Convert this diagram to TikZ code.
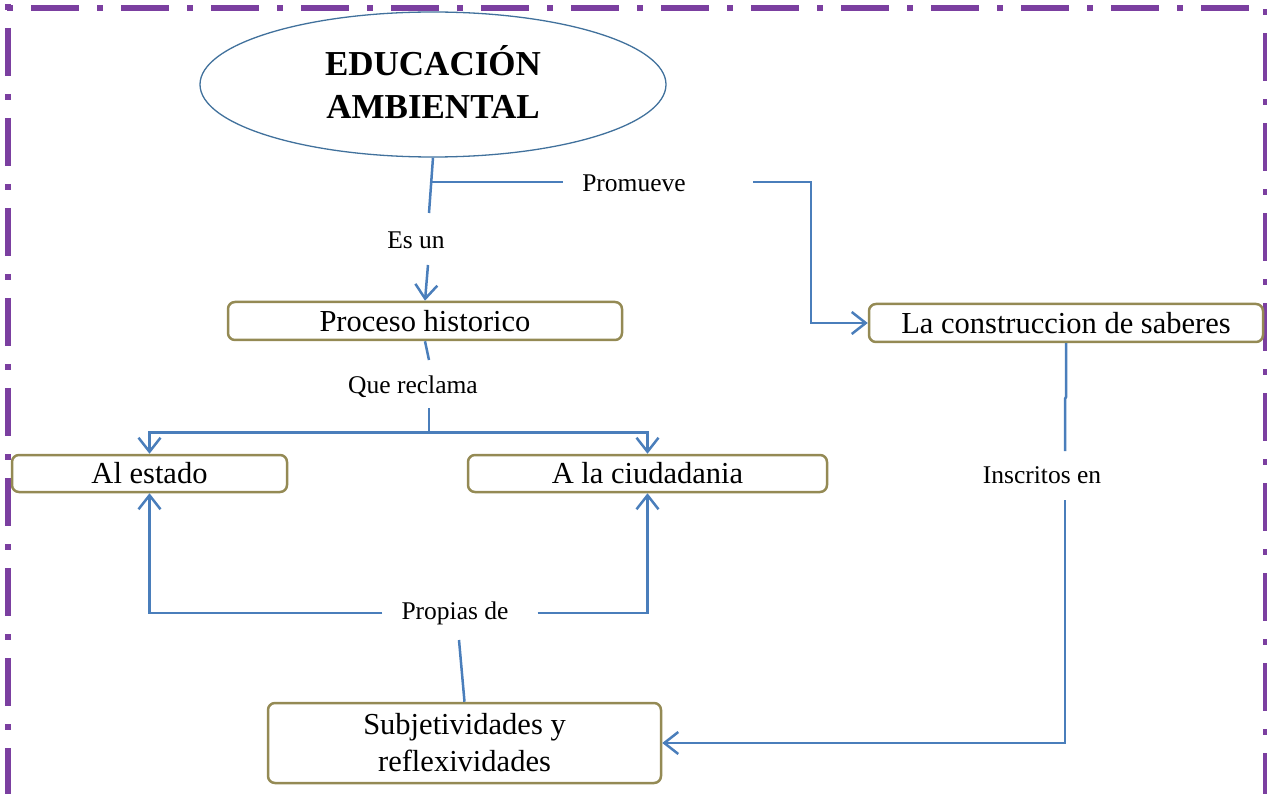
\documentclass[tikz,border=0pt]{standalone}
\usepackage{fontspec}
\setmainfont{Liberation Serif}
\usetikzlibrary{arrows.meta,shapes.geometric}
\definecolor{bordpurple}{RGB}{123,63,160}
\definecolor{conblue}{RGB}{74,126,187}
\definecolor{boxolive}{RGB}{148,138,84}
\definecolor{ellblue}{RGB}{65,113,156}
\begin{document}
\begin{tikzpicture}[x=1pt,y=-1pt,
  frameline/.style={draw=bordpurple, line width=6pt, dash pattern=on 6pt off 18pt on 48pt off 18pt},
  conn/.style={draw=conblue, line width=2.5pt},
  arr/.style={conn, -{Straight Barb[length=14pt,width=22pt,line width=2.5pt]}},
  concept/.style={draw=boxolive, line width=2.5pt, rounded corners=7pt, inner sep=0pt,
    align=center, font=\fontsize{30.5}{37}\selectfont},
  lbl/.style={inner sep=0pt, anchor=base, font=\fontsize{25.5}{30}\selectfont}]
\useasboundingbox (0,0) rectangle (1267,794);
% frame
\draw[frameline] (7,8.5) -- (1250,8.5);
\draw[frameline] (8,4) -- (8,794);
\draw[frameline] (1265.5,9) -- (1265.5,794);
% main ellipse
\node[ellipse, draw=ellblue, line width=1.3pt, minimum width=466pt, minimum height=145pt,
  inner sep=0pt, align=center, font=\fontsize{35}{43}\bfseries\selectfont] (edu) at (433,84.5)
  {EDUCACIÓN\\AMBIENTAL\rule[-6pt]{0pt}{0pt}};
% concept boxes
\node[concept, minimum width=394pt, minimum height=38pt] (proc) at (425,321) {Proceso historico};
\node[concept, minimum width=275pt, minimum height=37pt] (estado) at (149.5,473.5) {Al estado};
\node[concept, minimum width=359pt, minimum height=37pt] (ciud) at (647.5,473.5) {A la ciudadania};
\node[concept, minimum width=394pt, minimum height=38pt] (saber) at (1066,323) {La construccion de saberes};
\node[concept, minimum width=393pt, minimum height=80pt] (subj) at (464.5,743) {Subjetividades y\\reflexividades};
% labels
\node[lbl] (lpromueve) at (634,192) {Promueve};
\node[lbl] (lesun) at (416,249) {Es un};
\node[lbl] (lreclama) at (413,393) {Que reclama};
\node[lbl] (linscritos) at (1042,483) {Inscritos en};
\node[lbl] (lpropias) at (455,619) {Propias de};
% junction coordinates
\coordinate (ebot) at (429,213);
\coordinate (ej) at (431.5,182);
\coordinate (pm) at (753,182);
\coordinate (eu) at (428,265);
\coordinate (rq1) at (429,360);
\coordinate (rq2) at (429,408);
\coordinate (rq3) at (429,432.5);
\coordinate (pd) at (459,640);
\coordinate (in1) at (1066,397);
\coordinate (in2) at (1065,399);
\coordinate (in3) at (1065,451);
\coordinate (in4) at (1065,500);
% connectors
\draw[conn] (edu.south) -- (ebot);
\draw[conn] (ej) -- ([xshift=-19pt]lpromueve.west |- ej);
\draw[arr] (pm) -| ([xshift=-57pt]saber.west) -- (saber.west);
\draw[arr] (eu) -- (proc.north);
\draw[conn] (proc.south) -- (rq1);
\draw[conn] (rq2) -- (rq3);
\draw[arr] (rq3) -| (estado.north);
\draw[arr] (rq3) -| (ciud.north);
\draw[arr] ([xshift=-19pt]lpropias.west) -| (estado.south);
\draw[arr] ([xshift=29pt]lpropias.east) -| (ciud.south);
\draw[conn] (pd) -- (subj.north);
\draw[conn] (saber.south) -- (in1) -- (in2) -- (in3);
\draw[arr] (in4) |- (subj.east);
\end{tikzpicture}
\end{document}
